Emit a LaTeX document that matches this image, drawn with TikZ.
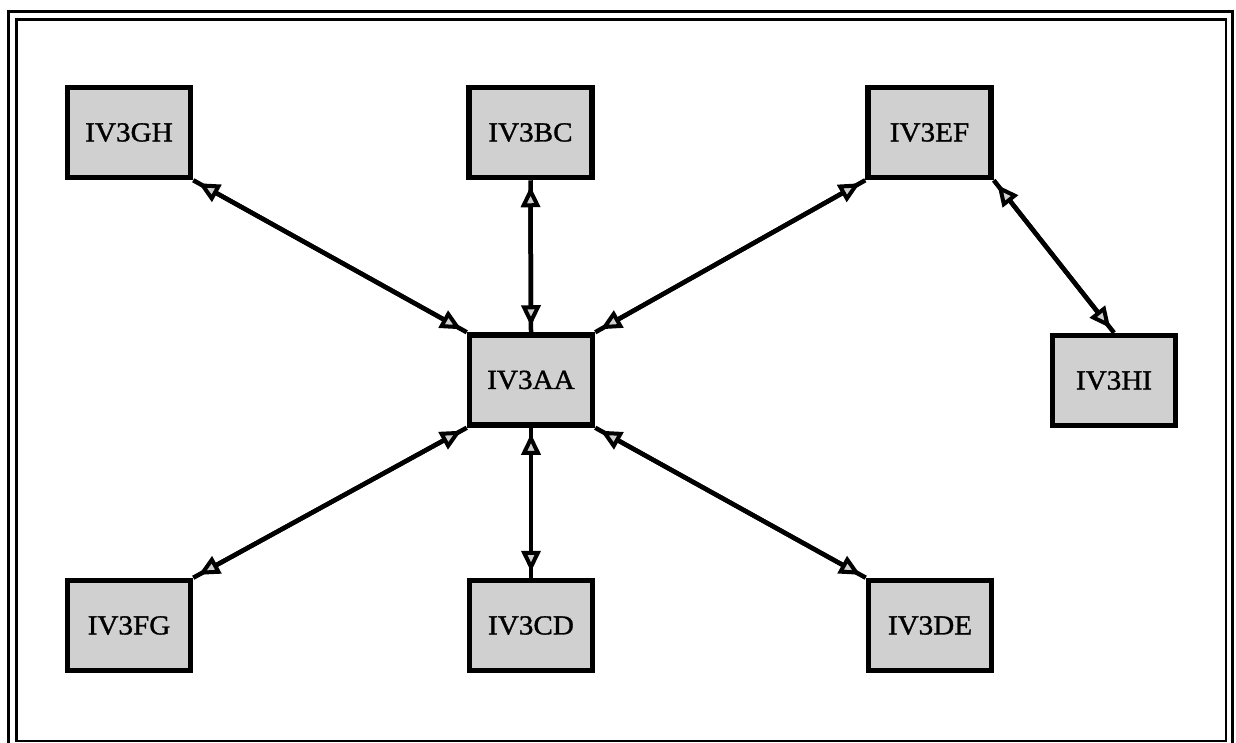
\documentclass[tikz,border=0pt]{standalone}
\usepackage{fontspec}
\newfontfamily\boxfont[FakeStretch=1.06, FakeBold=1.2]{Liberation Serif}
\usetikzlibrary{arrows.meta}
\definecolor{boxgray}{RGB}{208,208,208}
\tikzset{
  unit/.style={draw=black, line width=5.5pt, fill=boxgray, rectangle,
    minimum width=123pt, minimum height=90pt, inner sep=0pt,
    font=\boxfont\fontsize{27.5}{30}\selectfont},
  link/.style={draw=black, line width=4.5pt,
    postaction={draw=black, line width=4.5pt, shorten >=6pt, shorten <=6pt,
      arrows={Triangle[length=21pt, width=19pt, line width=4pt, fill=boxgray]-Triangle[length=21pt, width=19pt, line width=4pt, fill=boxgray]}}},
  frameout/.style={draw=black, line width=3pt},
  framein/.style={draw=black, line width=2.5pt}
}
\begin{document}
\begin{tikzpicture}[x=1pt, y=-1pt]
  \useasboundingbox (0,0) rectangle (1236,742);
  \clip (0,0) rectangle (1236,742);
  \fill[white] (0,0) rectangle (1236,742);
  % double frame around the chart
  \draw[frameout] (8.5,11.5) rectangle (1232,770);
  \draw[framein] (16.5,19.5) rectangle (1226,741);

  % units
  \node[unit] (gh) at (129,132.5) {IV3GH};
  \node[unit] (bc) at (530.5,132.5) {IV3BC};
  \node[unit] (ef) at (929.5,132.5) {IV3EF};
  \node[unit] (aa) at (531,380) {IV3AA};
  \node[unit] (hi) at (1114,380.5) {IV3HI};
  \node[unit] (fg) at (129,625.5) {IV3FG};
  \node[unit] (cd) at (531,625.5) {IV3CD};
  \node[unit] (de) at (930,625.5) {IV3DE};

  % two-way links
  \path[link] (gh.south east) -- (aa.north west);
  \path[link] (bc.south) -- (aa.north);
  \path[link] (ef.south west) -- (aa.north east);
  \path[link] (ef.south east) -- (hi.north);
  \path[link] (aa.south west) -- (fg.north east);
  \path[link] (aa.south) -- (cd.north);
  \path[link] (aa.south east) -- (de.north west);
\end{tikzpicture}
\end{document}
